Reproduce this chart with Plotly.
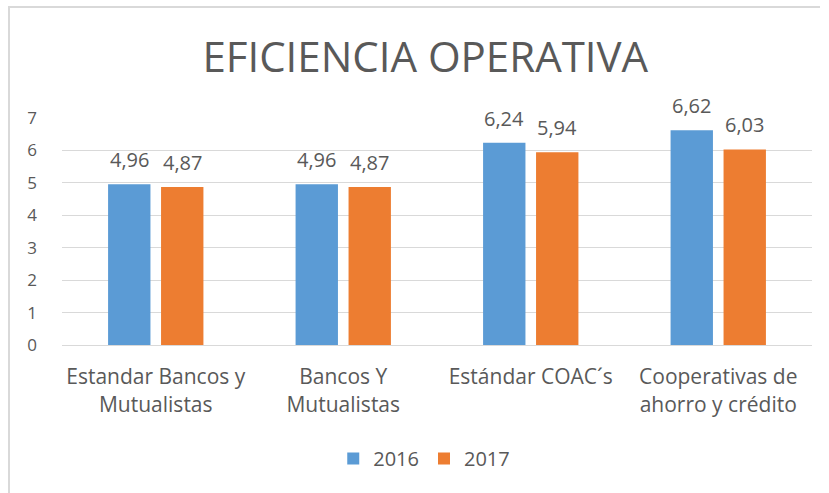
import plotly.graph_objects as go

categories = ["Estandar Bancos y<br>Mutualistas", "Bancos Y<br>Mutualistas",
              "Estándar COAC´s", "Cooperativas de<br>ahorro y crédito"]
values_2016 = [4.96, 4.96, 6.24, 6.62]
values_2017 = [4.87, 4.87, 5.94, 6.03]
series_names = ["2016", "2017"]
y_ticks = [0, 1, 2, 3, 4, 5, 6, 7]

FONT = "Open Sans"
TXT = "#595959"
COLORS = ["#5B9BD5", "#ED7D31"]

fig = go.Figure()
annotations = []
for i, (name, vals) in enumerate(zip(series_names, [values_2016, values_2017])):
    fig.add_trace(go.Bar(
        x=categories, y=vals, name=name,
        marker=dict(color=COLORS[i], line=dict(width=0)),
    ))
    for c, v in zip(categories, vals):
        annotations.append(dict(
            x=c, y=v, xref="x", yref="y", text=f"{v:.2f}".replace(".", ","),
            showarrow=False, yanchor="bottom", xanchor="center",
            xshift=-26.5 if i == 0 else 26.5, yshift=9,
            font=dict(family=FONT, size=20, color=TXT),
        ))

PLOT_H = 493 - 118 - 148
PLOT_W = 829 - 62 - 17
top_y = 1 + (118 - 7) / PLOT_H
bot_y = -160 / PLOT_H
left_x = -53 / PLOT_W
right_x = 758 / PLOT_W

fig.update_layout(
    width=829, height=493,
    margin=dict(l=62, r=17, t=118, b=148),
    paper_bgcolor="white", plot_bgcolor="white",
    barmode="group", bargap=0.435, bargroupgap=0.2,
    title=dict(text="EFICIENCIA OPERATIVA", x=0.513, xanchor="center",
               y=1 - 57 / 493, yanchor="middle",
               font=dict(family=FONT, size=42, color=TXT)),
    font=dict(family=FONT, size=20, color=TXT),
    showlegend=True,
    legend=dict(orientation="h", x=0.483, xanchor="center", y=-0.5, yanchor="middle",
                font=dict(family=FONT, size=20, color=TXT), itemwidth=30,
                traceorder="normal"),
    annotations=annotations,
    xaxis=dict(showgrid=False, showline=True, linecolor="#d9d9d9", linewidth=1,
               tickfont=dict(family=FONT, size=21, color=TXT), ticks="",
               ticklabelstandoff=13),
    yaxis=dict(range=[0, 7], tickvals=y_ticks, showgrid=True, gridcolor="#d9d9d9",
               gridwidth=1, zeroline=False, showline=False, ticks="",
               ticklabelstandoff=24,
               tickfont=dict(family=FONT, size=17, color=TXT)),
    shapes=[
        dict(type="path", xref="paper", yref="paper", layer="above",
             path=f"M {left_x},{bot_y} L {left_x},{top_y} L {right_x},{top_y}",
             line=dict(color="#d9d9d9", width=2), fillcolor="rgba(0,0,0,0)"),
    ],
)

fig.write_html("out.html", config={"displayModeBar": False},
               post_script="document.body.style.margin='0';document.documentElement.style.margin='0';")
